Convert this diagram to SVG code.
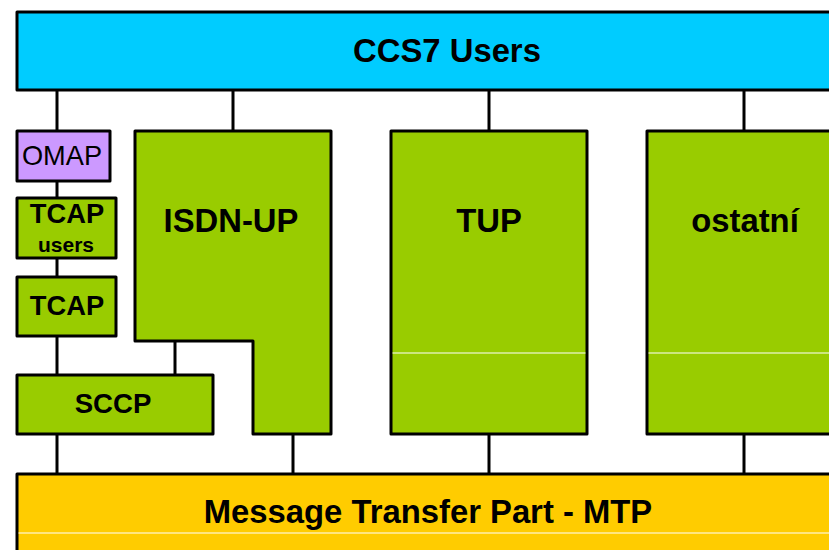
<svg xmlns="http://www.w3.org/2000/svg" width="829" height="550" viewBox="0 0 829 550">
<style>
.b{stroke:#000;stroke-width:3;stroke-linejoin:round}
.g{fill:#99CC00}
.t{font-family:"Liberation Sans",Arial,sans-serif;font-weight:bold;text-anchor:middle;fill:#000}
.w{stroke:#fff;stroke-width:1.2}
.c{stroke:#000;stroke-width:3;fill:none}
</style>
<rect x="0" y="0" width="829" height="550" fill="#fff"/>
<g id="connectors">
<path class="c" d="M57,90V131M57,181V198M57,258V277M57,336V375M57,434V474M233,90V131M489,90V131M489,434V474M744,90V131M744,434V474M175,341V375M293,434V474"/>
</g>
<g id="ccs7">
<rect class="b" x="17" y="12" width="860" height="78" fill="#00CCFF"/>
<text class="t" x="447" y="62" font-size="32.8">CCS7 Users</text>
</g>
<g id="omap">
<rect class="b" x="17" y="131" width="93" height="50" fill="#CC99FF"/>
<text x="62" y="165" font-size="27.2" font-family="Liberation Sans,Arial,sans-serif" text-anchor="middle">OMAP</text>
</g>
<g id="tcapusers">
<rect class="b g" x="17" y="198" width="99" height="60"/>
<text class="t" x="67" y="223" font-size="27.3">TCAP</text>
<text class="t" x="66" y="252" font-size="21">users</text>
</g>
<g id="tcap">
<rect class="b g" x="17" y="277" width="99" height="59"/>
<text class="t" x="67" y="315" font-size="27.3">TCAP</text>
</g>
<g id="isdnup">
<path class="b g" d="M135,131H331V434H253V341H135Z"/>
<text class="t" x="231" y="232" font-size="32.8">ISDN-UP</text>
</g>
<g id="sccp">
<rect class="b g" x="17" y="375" width="196" height="59"/>
<text class="t" x="113" y="413" font-size="27.6">SCCP</text>
</g>
<g id="tup">
<rect class="b g" x="391" y="131" width="196" height="303"/>
<line class="w" x1="392.5" y1="353" x2="585.5" y2="353"/>
<text class="t" x="489" y="232" font-size="32.8">TUP</text>
</g>
<g id="ostatni">
<rect class="b g" x="647" y="131" width="196" height="303"/>
<line class="w" x1="648.5" y1="353" x2="841.5" y2="353"/>
<text class="t" x="745" y="232" font-size="32.8">ostatní</text>
</g>
<g id="mtp">
<rect class="b" x="17" y="474" width="860" height="90" fill="#FFCC00"/>
<line class="w" x1="18.5" y1="533" x2="829" y2="533"/>
<text class="t" x="428" y="523" font-size="32.8">Message Transfer Part - MTP</text>
</g>
</svg>
